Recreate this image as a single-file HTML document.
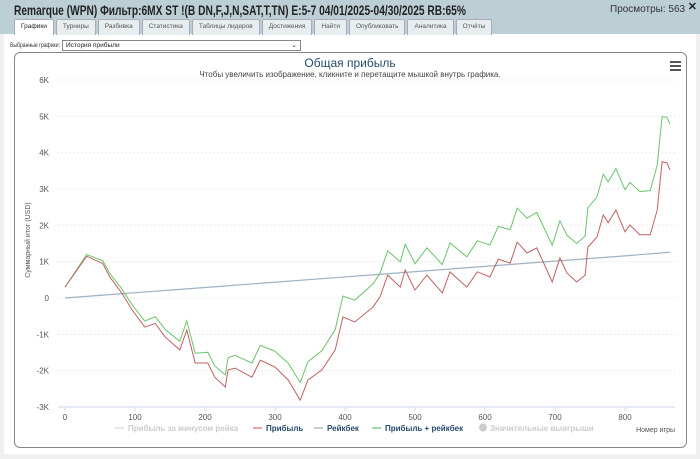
<!DOCTYPE html>
<html><head><meta charset="utf-8"><style>
body{margin:0;width:700px;height:459px;background:#f0f0f0;font-family:"Liberation Sans",sans-serif;overflow:hidden;position:relative}
.hdr{position:absolute;left:0;top:0;width:700px;height:34px;background:#bccfd5}
.title{position:absolute;left:14px;top:3px;font-size:13.5px;font-weight:bold;color:#222;white-space:nowrap;transform:scaleX(0.755);transform-origin:0 0}
.views{position:absolute;left:610px;top:4px;font-size:10px;color:#333}
.close{position:absolute;right:3px;top:0;font-size:11px;font-weight:bold;color:#222}
.tabs{position:absolute;left:14px;top:19px;height:15px;display:flex;gap:2px}
.tab{font-size:6.5px;color:#555;background:#e8eef0;border:1px solid #aab;border-bottom:none;padding:3px 6px 0;height:12px;border-radius:2px 2px 0 0;white-space:nowrap}
.tab.on{background:#fff;color:#222}
.body{position:absolute;left:4px;top:34px;width:692px;height:420px;background:#fff}
.sel{position:absolute;left:10px;top:42px;font-size:6.5px;color:#333;white-space:nowrap;transform:scaleX(0.78);transform-origin:0 0}
.dd{position:absolute;left:62px;top:40px;width:234px;height:9px;border:1px solid #888;font-size:6.5px;padding-left:3px;color:#222;line-height:9px}
.panel{position:absolute;left:14px;top:52px;width:671px;height:394px;border:1px solid #888;border-radius:6px;background:#fff}
</style></head><body>
<div class="hdr"></div>
<div class="title">Remarque (WPN) Фильтр:6MX ST !(B DN,F,J,N,SAT,T,TN) E:5-7 04/01/2025-04/30/2025 RB:65%</div>
<div class="views">Просмотры: 563</div>
<div class="close">✕</div>
<div class="body"></div>
<div class="tabs">
<div class="tab on">Графики</div>
<div class="tab">Турниры</div>
<div class="tab">Разбивка</div>
<div class="tab">Статистика</div>
<div class="tab">Таблицы лидеров</div>
<div class="tab">Достижения</div>
<div class="tab">Найти</div>
<div class="tab">Опубликовать</div>
<div class="tab">Аналитика</div>
<div class="tab">Отчёты</div>
</div>
<div class="sel">Выбранные графики:</div>
<div class="dd">История прибыли<span style="position:absolute;right:3px;top:0">⌄</span></div>
<div class="panel"></div>
<svg id="chart" width="700" height="459" style="position:absolute;left:0;top:0" font-family="Liberation Sans, sans-serif"></svg>
<script>
const yTicks=[-3000,-2000,-1000,0,1000,2000,3000,4000,5000,6000];
const yTickLabels=["-3K","-2K","-1K","0","1K","2K","3K","4K","5K","6K"];
const xTicks=[0,100,200,300,400,500,600,700,800];
const profitGames=[0,31,54,64,81,96,114,129,143,164,174,186,204,214,229,233,243,267,279,300,319,336,347,367,386,397,414,440,450,461,479,486,500,517,539,550,574,589,607,619,636,646,660,674,696,707,717,731,743,747,760,769,776,787,800,807,821,836,846,853,860,864];
const profitVals=[300,1150,950,580,140,-330,-800,-700,-1070,-1430,-880,-1790,-1790,-2180,-2450,-1980,-1930,-2180,-1710,-1900,-2260,-2810,-2260,-1980,-1430,-520,-660,-250,30,630,300,770,220,630,140,720,300,720,580,1070,960,1540,1240,1380,440,1100,690,440,630,1400,1680,2290,2070,2420,1820,2010,1740,1740,2420,3750,3720,3530];
const rakebackGames=[0,200,400,600,800,864];
const rakebackVals=[0,290,580,870,1160,1260];
const svg=document.getElementById('chart');
const NS='http://www.w3.org/2000/svg';
const X=g=>65+0.7*g, Y=v=>298-0.03633*v;
function mk(t,a){const e=document.createElementNS(NS,t);for(const k in a)e.setAttribute(k,a[k]);svg.appendChild(e);return e;}
function rb(g){for(let i=1;i<rakebackGames.length;i++){if(g<=rakebackGames[i]){const a=rakebackGames[i-1],b=rakebackGames[i];return rakebackVals[i-1]+(rakebackVals[i]-rakebackVals[i-1])*(g-a)/(b-a);}}return rakebackVals[rakebackVals.length-1];}
let t=mk('text',{x:350,y:67,'text-anchor':'middle','font-size':12,fill:'#274b6d'});t.textContent='Общая прибыль';


t=mk('text',{x:350,y:77,'text-anchor':'middle','font-size':8,fill:'#444'});t.textContent='Чтобы увеличить изображение, кликните и перетащите мышкой внутрь графика.';


const hb=mk('g',{});


[61,65,69].forEach(y=>{const r=document.createElementNS(NS,'rect');r.setAttribute('x',670);r.setAttribute('y',y);r.setAttribute('width',11);r.setAttribute('height',2);r.setAttribute('fill','#555');hb.appendChild(r);});
yTicks.forEach((v,i)=>{
 if(v!==-3000){const l=mk('line',{x1:58,x2:675,y1:Y(v),y2:Y(v),stroke:'#ddd','stroke-dasharray':'1,3'});
 
 }
 const tx=mk('text',{x:49,y:Y(v)+3,'text-anchor':'end','font-size':8,fill:'#555'});tx.textContent=yTickLabels[i];
 
 
});
const ax=mk('line',{x1:58,x2:675,y1:Y(-3000),y2:Y(-3000),stroke:'#ccd6eb'});


xTicks.forEach(g=>{
 const l=mk('line',{x1:X(g),x2:X(g),y1:Y(-3000),y2:Y(-3000)+4,stroke:'#ccd6eb'});
 
 
 const tx=mk('text',{x:X(g),y:Y(-3000)+13,'text-anchor':'middle','font-size':8,fill:'#555'});tx.textContent=g;
 
 
});
t=mk('text',{x:0,y:0,'text-anchor':'middle','font-size':7,fill:'#555',transform:'translate(30,240) rotate(-90)'});t.textContent='Суммарный итог (USD)';


t=mk('text',{x:675,y:432,'text-anchor':'end','font-size':7,fill:'#555'});t.textContent='Номер игры';


const rbp=mk('polyline',{points:rakebackGames.map((g,i)=>X(g)+','+Y(rakebackVals[i])).join(' '),fill:'none',stroke:'#9fb1c4','stroke-width':1.2});


const gp=mk('polyline',{points:profitGames.map((g,i)=>X(g)+','+Y(profitVals[i]+rb(g))).join(' '),fill:'none',stroke:'#6cc36c','stroke-width':1});


const pp=mk('polyline',{points:profitGames.map((g,i)=>X(g)+','+Y(profitVals[i])).join(' '),fill:'none',stroke:'#c06060','stroke-width':1});


const leg=[[115,'Прибыль за минусом рейка','#ddd','#ccc'],[253,'Прибыль','#d88','#274b6d'],[314,'Рейкбек','#abc','#274b6d'],[372,'Прибыль + рейкбек','#8c8','#274b6d']];
leg.forEach(e=>{
 const l=mk('line',{x1:e[0],x2:e[0]+9,y1:428,y2:428,stroke:e[2],'stroke-width':1.5});
 
 
 const tx=mk('text',{x:e[0]+13,y:431,'font-size':8,'font-weight':'bold',fill:e[3]});tx.textContent=e[1];
 
 
});
const c=mk('circle',{cx:483,cy:427.5,r:4,fill:'#ccc'});


t=mk('text',{x:490,y:431,'font-size':8,'font-weight':'bold',fill:'#ccc'});t.textContent='Значительные выигрыши';


</script>
</body></html>
